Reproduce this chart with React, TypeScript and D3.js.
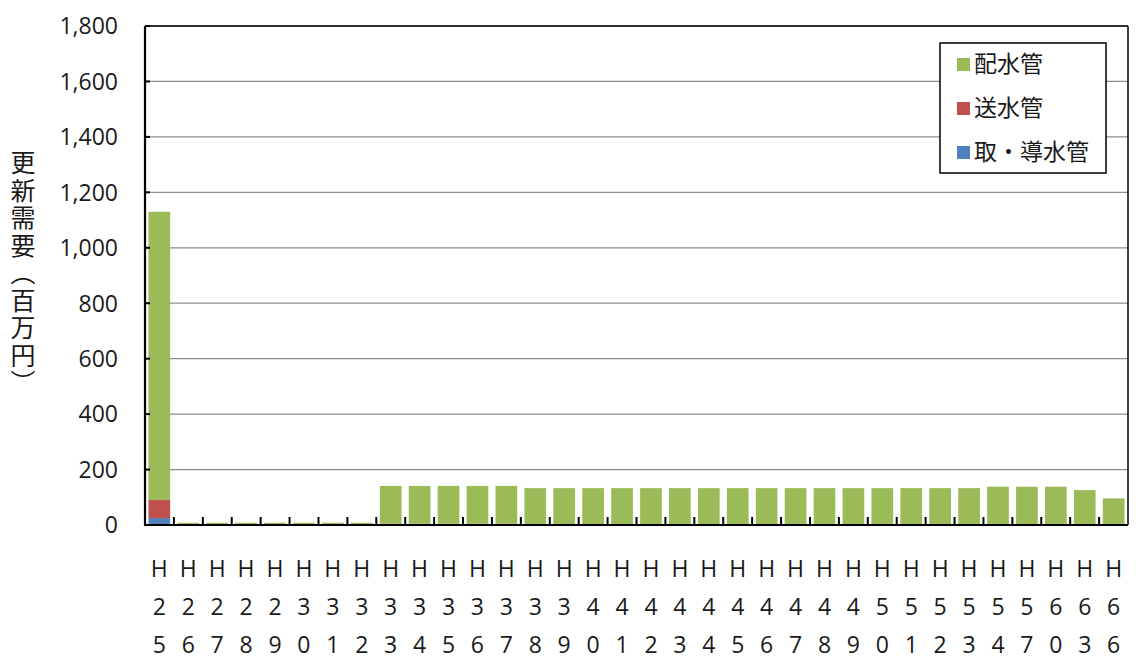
import React from "react";
import * as d3 from "d3";

// Fiscal years (Heisei) on the x axis
const years = [
  "25", "26", "27", "28", "29", "30", "31", "32", "33", "34",
  "35", "36", "37", "38", "39", "40", "41", "42", "43", "44",
  "45", "46", "47", "48", "49", "50", "51", "52", "53", "54",
  "57", "60", "63", "66",
];

// Renewal demand by pipe type (million yen)
const distribution = [
  1040, 5, 5, 5, 5, 5, 5, 5, 136, 136,
  136, 136, 136, 133, 133, 133, 133, 133, 133, 133,
  133, 133, 133, 133, 133, 133, 133, 133, 133, 138,
  138, 138, 126, 96,
];
const transmission = [
  65, 3, 3, 3, 3, 3, 3, 3, 5, 5,
  5, 5, 5, 0, 0, 0, 0, 0, 0, 0,
  0, 0, 0, 0, 0, 0, 0, 0, 0, 0,
  0, 0, 0, 0,
];
const intake = [
  25, 0, 0, 0, 0, 0, 0, 0, 0, 0,
  0, 0, 0, 0, 0, 0, 0, 0, 0, 0,
  0, 0, 0, 0, 0, 0, 0, 0, 0, 0,
  0, 0, 0, 0,
];

const yTicks = [0, 200, 400, 600, 800, 1000, 1200, 1400, 1600, 1800];

const seriesKeys = ["intake", "transmission", "distribution"] as const;
const seriesNames: Record<string, string> = {
  distribution: "配水管",
  transmission: "送水管",
  intake: "取・導水管",
};
const seriesColors: Record<string, string> = {
  distribution: "#9BBB59",
  transmission: "#C0504D",
  intake: "#4F81BD",
};
const legendOrder = ["distribution", "transmission", "intake"];

const yTitle = "更新需要（百万円）";

const CJK = "'Noto Sans CJK JP', sans-serif";
const NUM = "'Open Sans', 'Noto Sans', sans-serif";
const INK = "#1a1a1a";

export default function App() {
  const W = 1136;
  const H = 664;
  const left = 145;
  const right = 1128;
  const top = 26;
  const bottom = 525;

  const rows = years.map((y, i) => ({
    year: y,
    intake: intake[i],
    transmission: transmission[i],
    distribution: distribution[i],
  }));

  const x = d3
    .scaleBand<string>()
    .domain(years)
    .range([left, right])
    .paddingInner(0.25)
    .paddingOuter(0.12);
  const step = (right - left) / years.length;
  const y = d3.scaleLinear().domain([0, 1800]).range([bottom, top]);

  const stacked = d3.stack<any>().keys(seriesKeys as unknown as string[])(rows);

  const fmt = d3.format(",");

  return (
    <div style={{ position: "absolute", left: 0, top: 0 }}>
      <svg width={W} height={H} style={{ display: "block", background: "#fff" }}>
        {/* gridlines */}
        {yTicks.slice(1).map((t) => (
          <line
            key={"g" + t}
            x1={left}
            x2={right}
            y1={y(t)}
            y2={y(t)}
            stroke="#8c8c8c"
            strokeWidth={1.2}
          />
        ))}

        {/* stacked bars */}
        {stacked.map((layer) => (
          <g key={layer.key} fill={seriesColors[layer.key]}>
            {layer.map((d, i) => {
              const h = y(d[0]) - y(d[1]);
              if (h <= 0) return null;
              return (
                <rect
                  key={i}
                  x={x(years[i])}
                  y={y(d[1])}
                  width={x.bandwidth()}
                  height={h}
                />
              );
            })}
          </g>
        ))}

        {/* plot frame */}
        <line x1={left} x2={right} y1={top} y2={top} stroke="#000" strokeWidth={1.5} />
        <line x1={right} x2={right} y1={top} y2={bottom} stroke="#000" strokeWidth={1.5} />
        <line x1={left} x2={left} y1={top} y2={bottom + 1} stroke="#000" strokeWidth={2.2} />
        <line x1={left - 1} x2={right} y1={bottom} y2={bottom} stroke="#000" strokeWidth={2.2} />

        {/* y ticks and labels */}
        {yTicks.map((t) => (
          <g key={"y" + t}>
            <line x1={left} x2={left + 5} y1={y(t)} y2={y(t)} stroke="#000" strokeWidth={2} />
            <text
              x={118}
              y={y(t)}
              dy="0.36em"
              textAnchor="end"
              fontFamily={NUM}
              fontSize={23}
              fill={INK}
            >
              {fmt(t)}
            </text>
          </g>
        ))}

        {/* x ticks between categories */}
        {d3.range(1, years.length).map((k) => (
          <line
            key={"xt" + k}
            x1={left + k * step}
            x2={left + k * step}
            y1={bottom}
            y2={bottom - 8}
            stroke="#000"
            strokeWidth={2}
          />
        ))}

        {/* x labels, stacked vertically */}
        {years.map((yr) => {
          const cx = (x(yr) as number) + x.bandwidth() / 2;
          const chars = ["H", yr[0], yr[1]];
          return (
            <g key={"xl" + yr}>
              {chars.map((c, j) => (
                <text
                  key={j}
                  x={cx}
                  y={569 + j * 38}
                  dy="0.36em"
                  textAnchor="middle"
                  fontFamily={NUM}
                  fontSize={23}
                  fill={INK}
                >
                  {c}
                </text>
              ))}
            </g>
          );
        })}

        {/* y axis title, vertical writing */}
        <text
          x={23}
          y={150}
          style={{ writingMode: "vertical-rl", textOrientation: "upright" } as any}
          fontFamily={CJK}
          fontSize={25}
          letterSpacing={2.5}
          fill={INK}
        >
          {yTitle}
        </text>

        {/* legend */}
        <rect x={940} y={43} width={166} height={130} fill="#fff" stroke="#000" strokeWidth={1.5} />
        {legendOrder.map((k, j) => {
          const cy = 64 + j * 44;
          return (
            <g key={"lg" + k}>
              <rect x={957} y={cy - 6} width={13} height={13} fill={seriesColors[k]} />
              <text
                x={974}
                y={cy}
                dy="0.36em"
                fontFamily={CJK}
                fontSize={23}
                fill={INK}
              >
                {seriesNames[k]}
              </text>
            </g>
          );
        })}
      </svg>
    </div>
  );
}
